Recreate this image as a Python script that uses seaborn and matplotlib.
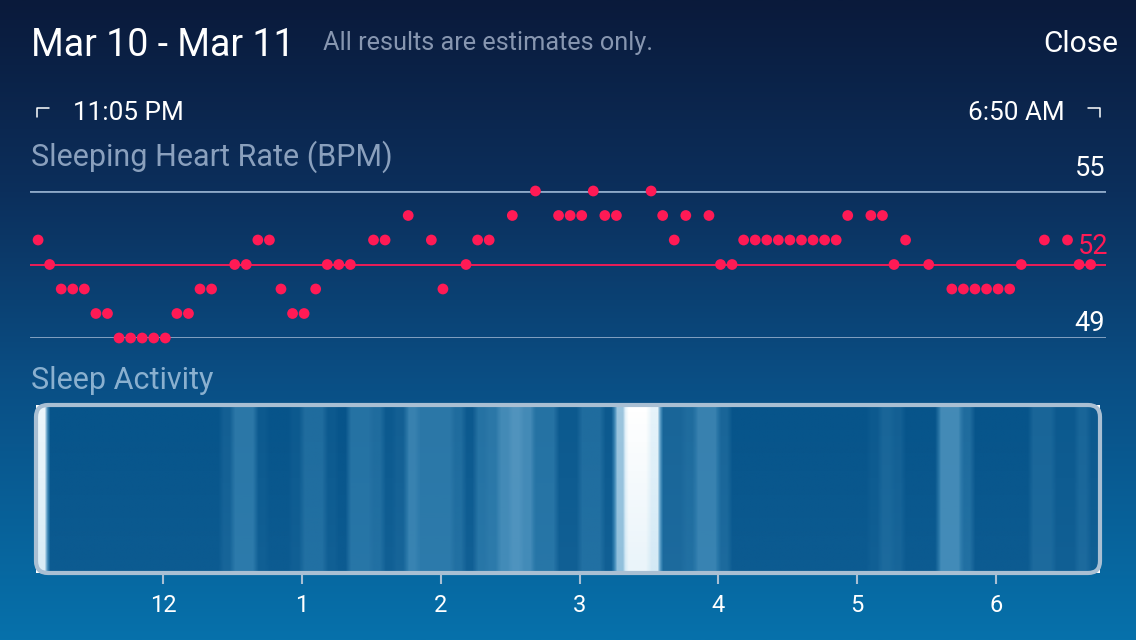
import numpy as np
import pandas as pd
import seaborn as sns
import matplotlib.pyplot as plt
from matplotlib.colors import LinearSegmentedColormap
from matplotlib.patches import FancyBboxPatch
from matplotlib.lines import Line2D

# heart rate, one reading every 5 min from 11:06 PM (None = no reading)
bpm = [53, 52, 51, 51, 51, 50, 50, 49, 49, 49, 49, 49, 50, 50, 51, 51, None, 52, 52, 53,
       53, 51, 50, 50, 51, 52, 52, 52, None, 53, 53, None, 54, None, 53, 51, None, 52, 53, 53,
       None, 54, None, 55, None, 54, 54, 54, 55, 54, 54, None, None, 55, 54, 53, 54, None, 54, 52,
       52, 53, 53, 53, 53, 53, 53, 53, 53, 53, 54, None, 54, 54, 52, 53, None, 52, None, 51,
       51, 51, 51, 51, 51, 52, None, 53, None, 53, 52, 52]

# sleep activity per 5 min bin, 11:05 PM to 6:45 AM (0 = still, 1 = awake)
activity = [0.85, 0, 0, 0, 0, 0, 0, 0, 0, 0, 0, 0, 0, 0, 0, 0, 0.1, 0.3, 0.3, 0.05,
            0, 0, 0.05, 0.2, 0.2, 0.05, 0, 0.25, 0.25, 0.2, 0.05, 0.1, 0.35, 0.3, 0.3, 0.3, 0.2, 0.05, 0.25, 0.3,
            0.4, 0.45, 0.4, 0.25, 0.25, 0.05, 0.05, 0.2, 0.2, 0.05, 0.65, 1.0, 1.0, 0.8, 0.15, 0.15, 0.2, 0.35, 0.35, 0.15,
            0, 0, 0, 0, 0, 0, 0, 0, 0, 0, 0, 0, 0.05, 0.15, 0.1, 0, 0, 0, 0.4, 0.4,
            0.2, 0, 0, 0, 0, 0, 0.15, 0.15, 0.05, 0.05, 0.15, 0.05]

hour_ticks = [0, 1, 2, 3, 4, 5, 6]
hour_labels = ["12", "1", "2", "3", "4", "5", "6"]
bpm_lines = [49, 52, 55]

W, H = 1136, 640
sns.set_theme(style="white")
plt.rcParams["font.family"] = ["Roboto", "DejaVu Sans"]

fig = plt.figure(figsize=(W / 100, H / 100), dpi=100)


def fx(x):
    return x / W


def fy(y):
    return 1 - y / H


# background gradient
bg = fig.add_axes([0, 0, 1, 1], zorder=-5)
bg_cmap = LinearSegmentedColormap.from_list(
    "bg", [(0, "#0a1a3b"), (0.3, "#0c2f5c"), (0.6, "#0a4f85"), (1, "#0671ab")])
bg.imshow(np.linspace(0, 1, 256).reshape(-1, 1), aspect="auto", cmap=bg_cmap,
          extent=[0, 1, 0, 1], origin="upper")
bg.set_axis_off()

# header text
fig.text(fx(31), fy(56), "Mar 10 - Mar 11", color="white", fontsize=27)
fig.text(fx(323), fy(50), "All results are estimates only.", color="#8796b0", fontsize=18.2)
fig.text(fx(1118), fy(52), "Close", color="white", fontsize=21.5, ha="right")
fig.text(fx(73), fy(120), "11:05 PM", color="white", fontsize=18.8)
fig.text(fx(1065), fy(120), "6:50 AM", color="white", fontsize=18.8, ha="right")
fig.add_artist(Line2D([fx(37), fx(37), fx(49)], [fy(117), fy(108), fy(108)], color="white", lw=1.1))
fig.add_artist(Line2D([fx(1088), fx(1100), fx(1100)], [fy(108), fy(108), fy(117)], color="white", lw=1.1))
fig.text(fx(31), fy(166), "Sleeping Heart Rate (BPM)", color="#8aa0bd", fontsize=22)
fig.text(fx(31), fy(389), "Sleep Activity", color="#8ab0cf", fontsize=22)

# heart rate panel
t0 = -54 / 60
df = pd.DataFrame({"hour": t0 + np.arange(len(bpm)) * 5 / 60,
                   "bpm": pd.array(bpm, dtype="Float64")}).dropna()
df["bpm"] = df["bpm"].astype(float)
ax = fig.add_axes([fx(30), fy(338), (1106 - 30) / W, (338 - 191) / H])
ax.set_xlim((30 - 163) / 138.8, (1106 - 163) / 138.8)
ax.set_ylim(bpm_lines[0], bpm_lines[-1])
ax.patch.set_alpha(0)
for v in bpm_lines:
    if v == 52:
        ax.axhline(v, color="#ff1a55", lw=1.3, zorder=1)
    else:
        ax.axhline(v, color="#8ea9c8", lw=2, zorder=1)
sns.scatterplot(data=df, x="hour", y="bpm", ax=ax, color="#ff1a55", s=60,
                edgecolor="none", clip_on=False, zorder=3, legend=False)
ax.set_axis_off()
fig.text(fx(1105), fy(176), "55", color="white", fontsize=19.5, ha="right")
fig.text(fx(1108), fy(254), "52", color="#ff1a55", fontsize=19.5, ha="right")
fig.text(fx(1105), fy(331), "49", color="white", fontsize=19.5, ha="right")

# sleep activity band
bx = fig.add_axes([fx(36), fy(573), (1100 - 36) / W, (573 - 405) / H])
start, end = -55 / 60, -55 / 60 + len(activity) * 5 / 60
fine = np.repeat(np.array(activity, dtype=float), 10)
kernel = np.ones(5) / 5
fine = np.convolve(np.pad(fine, 2, mode="edge"), kernel, mode="valid")
band_cmap = LinearSegmentedColormap.from_list(
    "band", [(0, "#07548a"), (0.3, "#2c78a8"), (0.55, "#6aa6cc"), (0.8, "#e6f3fa"), (1, "#ffffff")])
bx.imshow(np.vstack([fine, fine]), aspect="auto", cmap=band_cmap, vmin=0, vmax=1,
          extent=[start, end, 0, 1], interpolation="bilinear")
# light shading towards the bottom of the band
bx.imshow(np.linspace(0, 1, 64).reshape(-1, 1), aspect="auto",
          cmap=LinearSegmentedColormap.from_list("sh", ["#3a9ad000", "#3a9ad01c"]),
          extent=[start, end, 0, 1], origin="upper", zorder=2)
bx.set_xlim(start, end)
bx.set_ylim(0, 1)
box = FancyBboxPatch((0, 0), 1, 1, boxstyle="round,pad=0,rounding_size=%f" % (12 / 1064),
                     mutation_aspect=1064 / 168, transform=bx.transAxes,
                     facecolor="none", edgecolor="#a9bfd3", lw=3, zorder=4, clip_on=False)
bx.add_patch(box)
for art in bx.images:
    art.set_clip_path(box)
for s in bx.spines.values():
    s.set_visible(False)
bx.set_yticks([])
bx.set_xticks(hour_ticks)
bx.set_xticklabels(hour_labels)
bx.tick_params(axis="x", direction="out", length=8, width=1.5, color="#a9bfd3",
               labelcolor="white", labelsize=17, pad=7, bottom=True)

fig.savefig("out.png", dpi=100)
